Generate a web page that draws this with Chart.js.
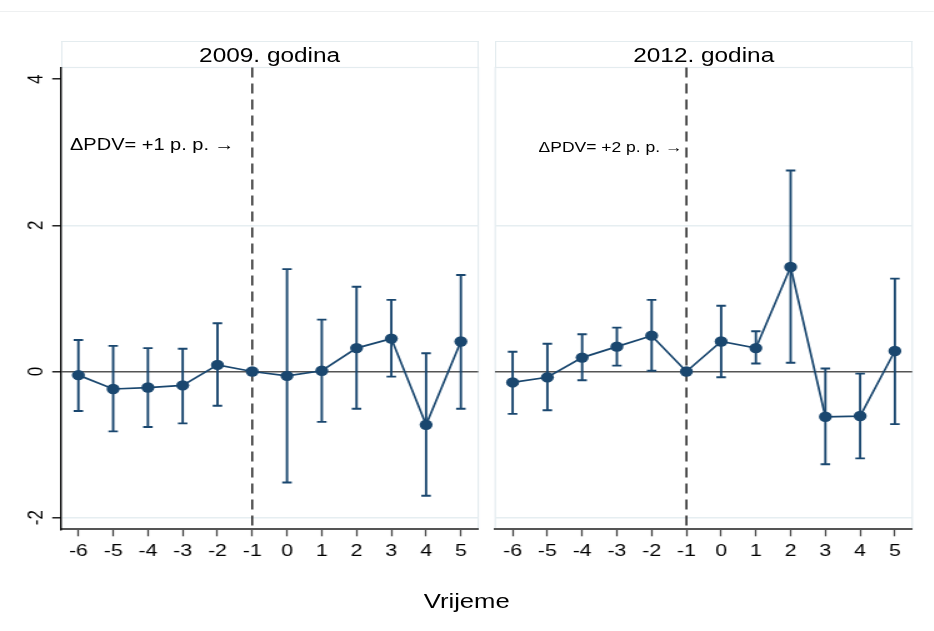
<!DOCTYPE html>
<html lang="hr">
<head>
<meta charset="UTF-8">
<title>PDV</title>
<script src="https://cdn.jsdelivr.net/npm/chart.js@4.4.1/dist/chart.umd.min.js"></script>
<style>
body { margin: 0; background: #fff; overflow: hidden; }
/* the reference is stretched sideways, so the whole stage is drawn narrow and widened */
#stage { position: absolute; left: 0; top: 0; width: 747.2px; height: 631px; transform: scaleX(1.25); transform-origin: 0 0;
         font-family: 'Liberation Sans', Arial, sans-serif; color: #000; }
.topline { position: absolute; left: 0; top: 10.5px; width: 100%; height: 1px; background: #eef0f1; }
.box { position: absolute; top: 0; height: 631px; }
.strip { position: absolute; top: 41px; height: 26.5px; box-sizing: border-box; border: 1.2px solid #e4ecef; border-bottom: none;
         text-align: center; line-height: 26px; font-size: 19.5px; }
.note { position: absolute; white-space: nowrap; }
</style>
</head>
<body>
<div id="stage">
  <div class="topline"></div>
  <div class="strip" style="left:48.8px; width:333.8px;">2009. godina</div>
  <div class="strip" style="left:396.2px; width:333.6px;">2012. godina</div>
  <div class="box" style="left:0; width:390px;"><canvas id="c2009"></canvas></div>
  <div class="box" style="left:390px; width:357.2px;"><canvas id="c2012"></canvas></div>
  <div class="note" style="left:56px; top:135px; font-size:16px; line-height:20px;">ΔPDV= +1 p. p. →</div>
  <div class="note" style="left:346px; width:200px; text-align:right; top:138px; font-size:14px; line-height:18px;">ΔPDV= +2 p. p. →</div>
  <div class="note" style="left:273.4px; width:200px; text-align:center; top:589px; font-size:20.5px; line-height:24px;">Vrijeme</div>
</div>
<script>
const periods = [-6, -5, -4, -3, -2, -1, 0, 1, 2, 3, 4, 5];
const yTicks = [-2, 0, 2, 4];

// 2009: point estimates and confidence bounds
const est2009 = [-0.05, -0.24, -0.22, -0.19, 0.09, 0, -0.06, 0.01, 0.32, 0.45, -0.73, 0.41];
const lo2009  = [-0.54, -0.82, -0.76, -0.71, -0.47, null, -1.52, -0.69, -0.51, -0.07, -1.70, -0.51];
const hi2009  = [0.43, 0.35, 0.32, 0.31, 0.66, null, 1.40, 0.71, 1.16, 0.98, 0.25, 1.32];

// 2012
const est2012 = [-0.15, -0.08, 0.19, 0.34, 0.49, 0, 0.41, 0.32, 1.43, -0.62, -0.61, 0.28];
const lo2012  = [-0.58, -0.53, -0.12, 0.08, 0.01, null, -0.08, 0.11, 0.12, -1.27, -1.19, -0.72];
const hi2012  = [0.27, 0.38, 0.51, 0.60, 0.98, null, 0.90, 0.55, 2.75, 0.04, -0.03, 1.27];

const navy = '#1a476f';
Chart.defaults.font.family = "'Liberation Sans', Arial, sans-serif";

const errBars = {
  id: 'errBars',
  beforeDraw(chart) {
    // light frame round the plot region
    const a = chart.chartArea, c = chart.ctx;
    c.save();
    c.strokeStyle = '#e4ecef';
    c.lineWidth = 1.2;
    c.strokeRect(a.left, a.top, a.right - a.left, a.bottom - a.top);
    c.restore();
  },
  beforeDatasetsDraw(chart, args, opts) {
    const c = chart.ctx, x = chart.scales.x, y = chart.scales.y, a = chart.chartArea;
    c.save();
    // dashed line at t = -1
    const px = x.getPixelForValue(-1);
    c.strokeStyle = '#000';
    c.lineWidth = 1.3;
    c.setLineDash([10, 6]);
    c.beginPath(); c.moveTo(px, a.top); c.lineTo(px, a.bottom); c.stroke();
    c.setLineDash([]);
    // caps
    c.strokeStyle = navy;
    c.lineWidth = 1.9;
    opts.lo.forEach((lo, i) => {
      if (lo == null) return;
      const xp = x.getPixelForValue(periods[i]);
      const y1 = y.getPixelForValue(lo), y2 = y.getPixelForValue(opts.hi[i]);
      c.beginPath();
      c.moveTo(xp, y1); c.lineTo(xp, y2);
      c.moveTo(xp - 3.8, y1); c.lineTo(xp + 3.8, y1);
      c.moveTo(xp - 3.8, y2); c.lineTo(xp + 3.8, y2);
      c.stroke();
    });
    c.restore();
  }
};

function gridColor(ctx) {
  const v = ctx.tick.value;
  if (v === 0) return '#555';
  if (Math.abs(v) === 2) return '#e6eef1';
  return 'rgba(0,0,0,0)';
}

function makeChart(id, est, lo, hi, first) {
  return new Chart(document.getElementById(id), {
    type: 'line',
    data: {
      datasets: [{
        data: periods.map((p, i) => ({ x: p, y: est[i] })),
        borderColor: navy,
        backgroundColor: navy,
        borderWidth: 1.7,
        pointRadius: 5.2,
        pointBorderWidth: 0,
        pointBackgroundColor: navy,
        tension: 0
      }]
    },
    options: {
      responsive: true,
      maintainAspectRatio: false,
      animation: false,
      events: [],
      layout: { padding: first ? { left: 0, right: 7.4, top: 67.5, bottom: 41.7 }
                               : { left: 6.2, right: 17.4, top: 67.5, bottom: 41.7 } },
      plugins: { legend: { display: false }, tooltip: { enabled: false }, errBars: { lo: lo, hi: hi } },
      scales: {
        x: {
          type: 'linear', min: -6.5, max: 5.5,
          afterBuildTicks: s => { s.ticks = periods.map(v => ({ value: v })); },
          afterFit: s => { s.height = 60; },
          grid: { drawOnChartArea: false, tickLength: 7, tickColor: '#444', tickWidth: 1.3 },
          border: { color: '#555', width: 2 },
          ticks: { color: '#000', font: { size: 17 }, padding: 5, maxRotation: 0, autoSkip: false }
        },
        y: {
          type: 'linear', min: -2.16, max: 4.16,
          afterBuildTicks: s => { s.ticks = yTicks.map(v => ({ value: v })); },
          afterFit: s => { s.width = first ? 48.8 : 0; },
          grid: { color: gridColor, lineWidth: 1.6, drawTicks: first, tickLength: 7, tickColor: '#000', tickWidth: 1.3 },
          border: { display: first, color: '#000', width: 1.4 },
          ticks: { display: first, color: '#000', font: { size: 17 }, padding: 5,
                   minRotation: 90, maxRotation: 90, crossAlign: 'center' }
        }
      }
    },
    plugins: [errBars]
  });
}

makeChart('c2009', est2009, lo2009, hi2009, true);
makeChart('c2012', est2012, lo2012, hi2012, false);
</script>
</body>
</html>
